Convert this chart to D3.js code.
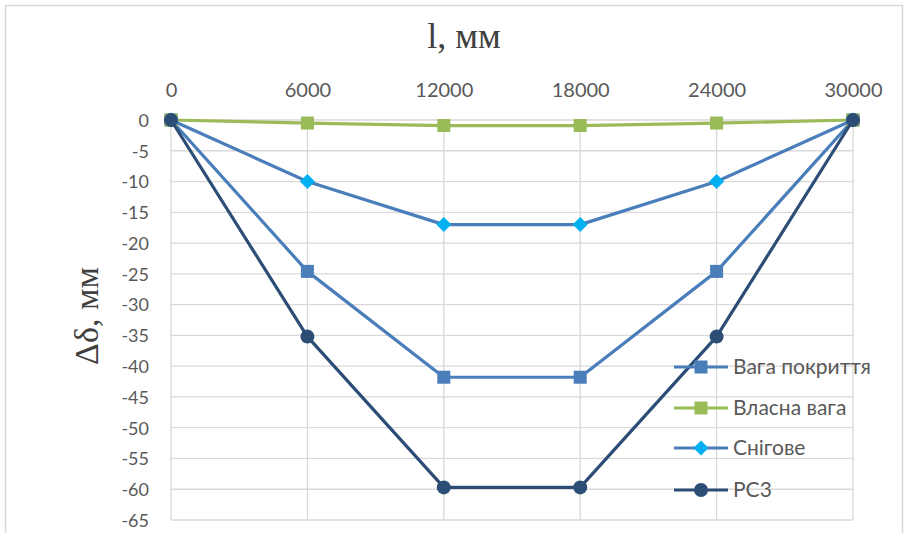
<!DOCTYPE html>
<html>
<head>
<meta charset="utf-8">
<script src="https://cdn.jsdelivr.net/npm/d3@7"></script>
<style>
  html, body { margin: 0; padding: 0; background: #fff; }
  svg { display: block; }
</style>
</head>
<body>
<svg id="chart" width="906" height="533"></svg>
<script>
// Span positions along the truss, mm
const positions = [0, 6000, 12000, 18000, 24000, 30000];
const xTicks = [0, 6000, 12000, 18000, 24000, 30000];
const yTicks = [0, -5, -10, -15, -20, -25, -30, -35, -40, -45, -50, -55, -60, -65];

// Deflection per load case, mm
const roofWeight = [0, -24.6, -41.8, -41.8, -24.6, 0];
const selfWeight = [0, -0.5, -0.9, -0.9, -0.5, 0];
const snowLoad = [0, -10, -17, -17, -10, 0];
const designCombo = [0, -35.2, -59.7, -59.7, -35.2, 0];

const seriesNames = ["Вага покриття", "Власна вага", "Снігове", "РС3"];

const series = [
  { name: seriesNames[0], values: roofWeight, line: "#4a7ebb", fill: "#4a7ebb", marker: "square" },
  { name: seriesNames[1], values: selfWeight, line: "#9bbb59", fill: "#9bbb59", marker: "square" },
  { name: seriesNames[2], values: snowLoad, line: "#4a7ebb", fill: "#00b0f0", marker: "diamond" },
  { name: seriesNames[3], values: designCombo, line: "#2c4d75", fill: "#2c4d75", marker: "circle" }
];

const svg = d3.select("#chart");
const plot = { left: 171, right: 853, top: 120, bottom: 520 };

// Chart frame
svg.append("rect")
  .attr("x", 5.5).attr("y", 5.5)
  .attr("width", 897).attr("height", 560)
  .attr("fill", "#fff").attr("stroke", "#d9d9d9").attr("stroke-width", 1.5);

const x = d3.scaleLinear().domain([0, 30000]).range([plot.left, plot.right]);
const y = d3.scaleLinear().domain([0, -65]).range([plot.top, plot.bottom]);

// Grid
const grid = svg.append("g");
grid.selectAll("line.h").data(yTicks).join("line")
  .attr("x1", plot.left).attr("x2", plot.right)
  .attr("y1", d => y(d)).attr("y2", d => y(d))
  .attr("stroke", "#d9d9d9").attr("stroke-width", 1.3);
grid.selectAll("line.v").data(xTicks).join("line")
  .attr("x1", d => x(d)).attr("x2", d => x(d))
  .attr("y1", plot.top).attr("y2", plot.bottom)
  .attr("stroke", "#d9d9d9").attr("stroke-width", 1.3);

// Axes (tick labels only)
const xAxis = svg.append("g")
  .attr("transform", `translate(0,${plot.top - 23})`)
  .call(d3.axisTop(x).tickValues(xTicks).tickSize(0).tickPadding(0).tickFormat(d3.format("d")));
const yAxis = svg.append("g")
  .attr("transform", `translate(${plot.left - 22},0)`)
  .call(d3.axisLeft(y).tickValues(yTicks).tickSize(0).tickPadding(0).tickFormat(d => d === 0 ? "0" : "-" + Math.abs(d)));
[xAxis, yAxis].forEach(a => {
  a.select(".domain").remove();
  a.selectAll("text")
    .attr("fill", "#595959")
    .style("font-family", "Lato, 'Open Sans', sans-serif");
});
xAxis.selectAll("text").style("font-size", "20px");
yAxis.selectAll("text").style("font-size", "18px").attr("dy", "0.35em");

// Axis titles
svg.append("text")
  .attr("x", 464).attr("y", 48)
  .attr("text-anchor", "middle")
  .attr("fill", "#404040")
  .style("font-family", "'Liberation Serif', serif")
  .style("font-size", "36px")
  .text("l, мм");
svg.append("text")
  .attr("transform", "translate(98,316) rotate(-90)")
  .attr("text-anchor", "middle")
  .attr("fill", "#404040")
  .style("font-family", "'Liberation Serif', serif")
  .style("font-size", "34px")
  .text("Δδ, мм");

function drawMarker(g, type, cx, cy, fill) {
  if (type === "square") {
    g.append("rect").attr("x", cx - 6.5).attr("y", cy - 6.5)
      .attr("width", 13).attr("height", 13).attr("fill", fill);
  } else if (type === "diamond") {
    g.append("path").attr("d", `M${cx},${cy - 7.5}L${cx + 7.5},${cy}L${cx},${cy + 7.5}L${cx - 7.5},${cy}Z`)
      .attr("fill", fill);
  } else {
    g.append("circle").attr("cx", cx).attr("cy", cy).attr("r", 7).attr("fill", fill);
  }
}

const line = d3.line().x((d, i) => x(positions[i])).y(d => y(d));

series.forEach(s => {
  const g = svg.append("g");
  g.append("path").attr("d", line(s.values))
    .attr("fill", "none").attr("stroke", s.line).attr("stroke-width", 3.2)
    .attr("stroke-linejoin", "round");
  s.values.forEach((v, i) => drawMarker(g, s.marker, x(positions[i]), y(v), s.fill));
});

// Legend
const legendY = [367, 408, 448, 490];
series.forEach((s, i) => {
  const g = svg.append("g");
  const ly = legendY[i];
  g.append("line").attr("x1", 674).attr("x2", 728).attr("y1", ly).attr("y2", ly)
    .attr("stroke", s.line).attr("stroke-width", 3.2);
  drawMarker(g, s.marker, 701, ly, s.fill);
  g.append("text").attr("x", 733).attr("y", ly).attr("dy", "0.35em")
    .attr("fill", "#595959")
    .style("font-family", "Lato, 'Open Sans', sans-serif")
    .style("font-size", "21px")
    .text(s.name);
});
</script>
</body>
</html>
